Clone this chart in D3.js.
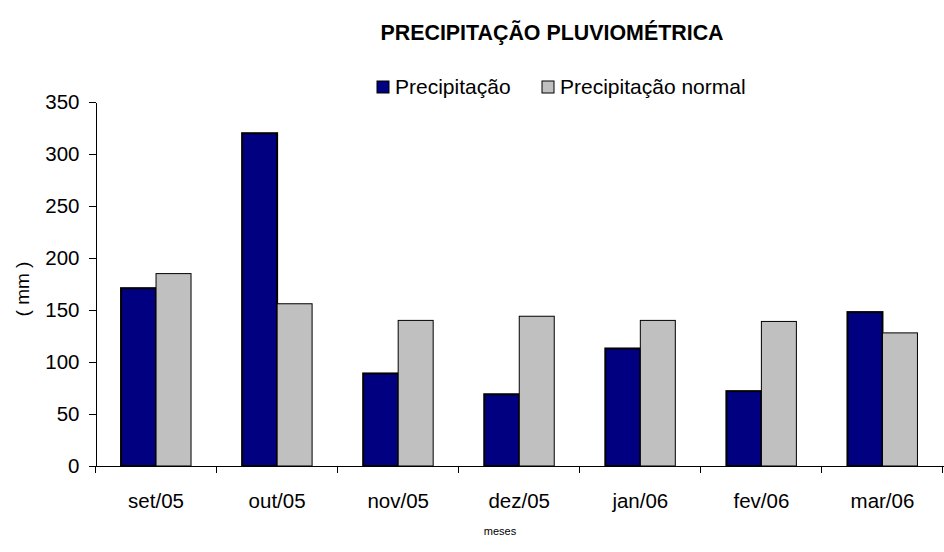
<!DOCTYPE html>
<html>
<head>
<meta charset="utf-8">
<script src="https://cdn.jsdelivr.net/npm/d3@7"></script>
<style>
  body { margin: 0; background: #fff; }
  svg { display: block; font-family: "Liberation Sans", Arial, sans-serif; }
  .axis path, .axis line { stroke: #000; shape-rendering: crispEdges; }
  .axis text { fill: #000; }
</style>
</head>
<body>
<svg width="944" height="552"></svg>
<script>
// data
var meses = ['set/05', 'out/05', 'nov/05', 'dez/05', 'jan/06', 'fev/06', 'mar/06'];
var precipitacao = [171, 320, 89, 69, 113, 72, 148];
var precipitacaoNormal = [185, 156, 140, 144, 140, 139, 128];
var series = ['Precipitação', 'Precipitação normal'];
var yTicks = [0, 50, 100, 150, 200, 250, 300, 350];

var margin = { top: 102, right: 1, bottom: 86, left: 95.5 },
  canvasWidth = 944,
  canvasHeight = 552,
  width = canvasWidth - margin.left - margin.right,
  height = canvasHeight - margin.top - margin.bottom;

var colors = { 'Precipitação': '#000080', 'Precipitação normal': '#c0c0c0' };
var strokes = { 'Precipitação': 2, 'Precipitação normal': 1 };

var data = meses.map(function(m, i) {
  return { mes: m, values: [
    { serie: series[0], v: precipitacao[i] },
    { serie: series[1], v: precipitacaoNormal[i] }
  ] };
});

var svg = d3.select('svg');
var graphArea = svg.append('g')
  .attr('transform', 'translate(' + margin.left + ',' + margin.top + ')');

var xScale = d3.scaleBand().domain(meses).range([0, width]).padding(0);
var x1 = d3.scaleBand().domain(series).range([0, xScale.bandwidth()])
  .paddingInner(0).paddingOuter(0.73);
var yScale = d3.scaleLinear().domain([0, 350]).range([height, 0]);

// bars
var groups = graphArea.selectAll('.grupo')
  .data(data)
  .enter().append('g')
    .attr('class', 'grupo')
    .attr('transform', function(d) { return 'translate(' + xScale(d.mes) + ',0)'; });

groups.selectAll('rect')
  .data(function(d) { return d.values; })
  .enter().append('rect')
    .attr('x', function(d) { return x1(d.serie); })
    .attr('y', function(d) { return yScale(d.v); })
    .attr('width', x1.bandwidth())
    .attr('height', function(d) { return height - yScale(d.v); })
    .style('fill', function(d) { return colors[d.serie]; })
    .style('stroke', '#000')
    .style('stroke-width', function(d) { return strokes[d.serie]; });

// y axis
var yAxis = graphArea.append('g')
  .attr('class', 'axis')
  .call(d3.axisLeft(yScale).tickValues(yTicks).tickSize(7).tickPadding(9).tickSizeOuter(0));
yAxis.selectAll('text').style('font-size', '20.5px');

// x axis, ticks between the categories
var bw = xScale.bandwidth();
var xAxis = graphArea.append('g')
  .attr('class', 'axis')
  .attr('transform', 'translate(0,' + height + ')')
  .call(d3.axisBottom(xScale).tickSize(7).tickSizeOuter(0).tickPadding(20));
xAxis.selectAll('.tick line').attr('x1', -bw / 2).attr('x2', -bw / 2);
xAxis.selectAll('text').style('font-size', '20.5px');
xAxis.append('line')
  .attr('x1', width - 0.5).attr('x2', width - 0.5)
  .attr('y1', 0).attr('y2', 7)
  .style('stroke', '#000');

// title
svg.append('text')
  .attr('x', 552)
  .attr('y', 40)
  .attr('text-anchor', 'middle')
  .style('font-weight', 'bold')
  .style('font-size', '21.4px')
  .text('PRECIPITAÇÃO PLUVIOMÉTRICA');

// axis labels
svg.append('text')
  .attr('transform', 'translate(29,289) rotate(-90)')
  .attr('text-anchor', 'middle')
  .style('font-size', '19px')
  .text('( mm )');

svg.append('text')
  .attr('x', 500)
  .attr('y', 535)
  .attr('text-anchor', 'middle')
  .style('font-size', '11px')
  .text('meses');

// legend
var legend = svg.append('g').attr('transform', 'translate(377,81)');
var legendX = [0, 165];
series.forEach(function(s, i) {
  var item = legend.append('g').attr('transform', 'translate(' + legendX[i] + ',0)');
  item.append('rect')
    .attr('width', 12).attr('height', 12)
    .style('fill', colors[s])
    .style('stroke', '#000')
    .style('stroke-width', 1);
  item.append('text')
    .attr('x', 18)
    .attr('y', 13)
    .style('font-size', '21px')
    .text(s);
});
</script>
</body>
</html>
